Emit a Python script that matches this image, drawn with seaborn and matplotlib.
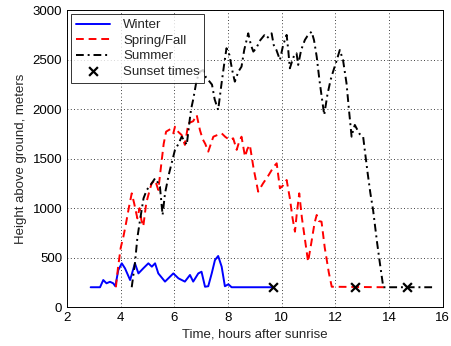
import matplotlib
matplotlib.use("Agg")
import matplotlib.pyplot as plt
import seaborn as sns

# Winter
winter_t = [2.88, 3.23, 3.35, 3.47, 3.6, 3.72, 3.8, 3.91, 4.04, 4.16, 4.35, 4.53, 4.66, 4.84,
            5.03, 5.16, 5.28, 5.4, 5.65, 5.96, 6.15, 6.39, 6.58, 6.7, 6.89, 7.01, 7.14, 7.26,
            7.39, 7.51, 7.63, 7.76, 7.88, 8.01, 8.13, 9.68]
winter_h = [200, 200, 273, 240, 255, 240, 210, 374, 442, 391, 273, 442, 340, 391,
            442, 408, 442, 340, 257, 340, 290, 257, 324, 257, 340, 357, 205, 210,
            340, 475, 516, 408, 210, 230, 200, 200]

# Spring/Fall
spring_t = [3.82, 3.9, 4.0, 4.1, 4.2, 4.3, 4.41, 4.5, 4.62, 4.7, 4.77, 4.84, 4.95, 5.03, 5.15,
            5.28, 5.4, 5.5, 5.6, 5.69, 5.85, 5.96, 6.02, 6.15, 6.27, 6.39, 6.52, 6.7, 6.83,
            6.95, 7.05, 7.15, 7.26, 7.45, 7.6, 7.76, 7.9, 8.07, 8.19, 8.32, 8.42, 8.5, 8.63,
            8.72, 8.81, 8.95, 9.12, 9.3, 9.5, 9.7, 9.81, 9.93, 10.05, 10.18, 10.3, 10.4,
            10.49, 10.56, 10.65, 10.75, 10.88, 10.98, 11.1, 11.22, 11.3, 11.38, 11.48,
            11.6, 11.75, 11.86, 13.8]
spring_h = [200, 400, 600, 711, 850, 1000, 1150, 1050, 897, 1000, 880, 814, 1050, 1133, 1250,
            1285, 1184, 1420, 1650, 1774, 1800, 1757, 1824, 1770, 1740, 1640, 1859, 1880, 1943,
            1791, 1700, 1650, 1572, 1723, 1740, 1757, 1720, 1690, 1707, 1590, 1680, 1723, 1521,
            1600, 1640, 1400, 1167, 1250, 1330, 1420, 1454, 1201, 1230, 1285, 1100, 900,
            762, 950, 1150, 900, 650, 458, 650, 850, 931, 870, 863,
            600, 350, 205, 200]

# Summer
summer_t = [4.41, 4.53, 4.62, 4.72, 4.85, 4.97, 5.1, 5.28, 5.38, 5.46, 5.56, 5.65, 5.8, 6.02,
            6.15, 6.27, 6.38, 6.46, 6.55, 6.62, 6.7, 6.83, 6.95, 7.07, 7.18, 7.26, 7.4, 7.5,
            7.63, 7.75, 7.85, 7.94, 8.05, 8.15, 8.25, 8.38, 8.5, 8.6, 8.75, 8.85, 8.94, 9.05,
            9.2, 9.35, 9.45, 9.62, 9.7, 9.8, 9.93, 10.05, 10.18, 10.24, 10.3, 10.4, 10.48,
            10.55, 10.61, 10.72, 10.86, 10.95, 11.11, 11.2, 11.3, 11.4, 11.5, 11.58, 11.7,
            11.82, 11.91, 12.05, 12.16, 12.28, 12.41, 12.5, 12.6, 12.66, 12.72, 12.8, 12.9,
            13.03, 13.09, 13.2, 13.3, 13.4, 13.55, 13.65, 13.78, 15.65]
summer_h = [200, 442, 700, 880, 1100, 1184, 1230, 1302, 1260, 1218, 931, 1150, 1350, 1589,
            1650, 1723, 1680, 1640, 1850, 2000, 2100, 2297, 2380, 2398, 2320, 2297, 2250, 2100,
            1994, 2250, 2450, 2618, 2550, 2400, 2280, 2380, 2432, 2600, 2769, 2650, 2584, 2620,
            2700, 2750, 2720, 2769, 2650, 2600, 2500, 2650, 2753, 2600, 2415, 2500, 2560,
            2567, 2449, 2600, 2702, 2740, 2786, 2700, 2533, 2300, 2100, 1943, 2150,
            2300, 2381, 2500, 2600, 2500, 2264, 2000, 1723, 1791, 1842, 1800, 1750,
            1723, 1589, 1350, 1150, 982, 650, 450, 200, 200]

# Sunset times
sunset_t = [9.68, 12.72, 14.65]
sunset_h = [200, 200, 200]

sns.set_style("white")
plt.rcParams['font.family'] = ['Liberation Sans', 'DejaVu Sans']
plt.rcParams['font.size'] = 9.5

fig = plt.figure(figsize=(4.51, 3.46), dpi=100)
ax = fig.add_axes([0.1486, 0.1127, 0.8334, 0.857])

sns.lineplot(x=winter_t, y=winter_h, sort=False, estimator=None, ax=ax,
             color='#0000ff', linewidth=1.4, label='Winter')
sns.lineplot(x=spring_t, y=spring_h, sort=False, estimator=None, ax=ax,
             color='#ff0000', linewidth=1.4, linestyle=(0, (4, 2.5)), label='Spring/Fall')
sns.lineplot(x=summer_t, y=summer_h, sort=False, estimator=None, ax=ax,
             color='black', linewidth=1.4, linestyle=(0, (4, 2, 1, 2)), label='Summer')
sns.scatterplot(x=sunset_t, y=sunset_h, ax=ax, marker='x', color='black',
                s=40, linewidth=1.6, label='Sunset times', zorder=5)

ax.set_xlim(2, 16)
ax.set_ylim(0, 3000)
ax.set_xticks(range(2, 17, 2))
ax.set_yticks(range(0, 3001, 500))
ax.grid(True, color='black', linestyle=(0, (1, 3)), linewidth=0.6)
ax.tick_params(direction='in', length=4, labelsize=9.5, colors='black', pad=3.5)
for s in ax.spines.values():
    s.set_color('black')
    s.set_linewidth(0.7)

ax.set_xlabel('Time, hours after sunrise', fontsize=9.5, labelpad=3)
ax.set_ylabel('Height above ground, meters', fontsize=9.5, labelpad=4)

leg = ax.legend(loc='upper left', frameon=True, fancybox=False, fontsize=9.5,
                borderaxespad=0.3, labelspacing=0.25, handlelength=2.6,
                handletextpad=1.0, borderpad=0.35)
leg.get_frame().set_edgecolor('black')
leg.get_frame().set_linewidth(0.7)

fig.savefig('out.png', dpi=100)
